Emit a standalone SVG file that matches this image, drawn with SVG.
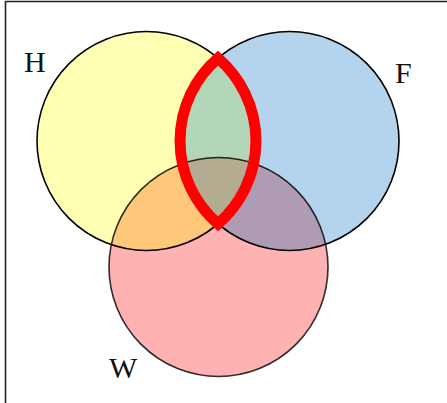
<svg xmlns="http://www.w3.org/2000/svg" width="447" height="403" viewBox="0 0 447 403">
<style>
.lbl{font-family:"Liberation Serif","Times New Roman",serif;font-size:30px;fill:#111}
.ol{fill:none;stroke:#000;stroke-width:1.6}
</style>
<defs>
<circle id="cH" cx="146.5" cy="141" r="109.5"/>
<circle id="cF" cx="289.5" cy="141" r="109.5"/>
<circle id="cW" cx="218.5" cy="267" r="109.5"/>
<clipPath id="clipH"><use href="#cH"/></clipPath>
<clipPath id="clipF"><use href="#cF"/></clipPath>
<clipPath id="clipW"><use href="#cW"/></clipPath>
</defs>
<rect width="447" height="403" fill="#fff"/>
<path d="M5.5,403 V1.5 H447" fill="none" stroke="#222" stroke-width="1.6"/>
<g id="H"><use href="#cH" fill="#ffffb3"/><text class="lbl" x="24" y="72">H</text></g>
<g id="F"><use href="#cF" fill="#b3d4ec"/><text class="lbl" x="395" y="82.5">F</text></g>
<g id="W"><use href="#cW" fill="#ffb2b2"/><text class="lbl" x="109" y="378">W</text></g>
<g id="overlaps">
<g clip-path="url(#clipH)"><use href="#cF" fill="#b3d5b8"/></g>
<g clip-path="url(#clipH)"><use href="#cW" fill="#fec87a"/></g>
<g clip-path="url(#clipF)"><use href="#cW" fill="#b09bb4"/></g>
<g clip-path="url(#clipH)"><g clip-path="url(#clipF)"><use href="#cW" fill="#b3ac91"/></g></g>
</g>
<g id="outlines">
<use href="#cH" class="ol"/>
<use href="#cF" class="ol"/>
<use href="#cW" class="ol" stroke-opacity="0.8"/>
</g>
<g id="connectors">
<path d="M218,58.1 A109.5,109.5 0 0,1 218,223.9 A109.5,109.5 0 0,1 218,58.1 Z" fill="none" stroke="#ff0000" stroke-width="11" stroke-linejoin="miter" stroke-miterlimit="2"/>
</g>
</svg>
